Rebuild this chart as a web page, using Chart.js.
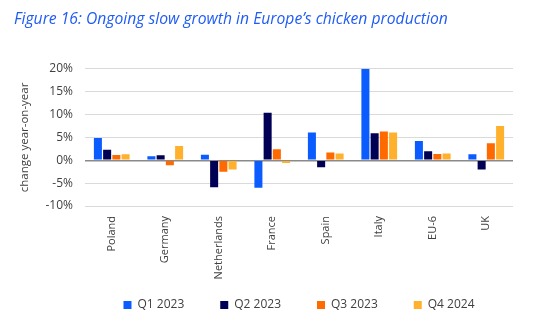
<!DOCTYPE html>
<html>
<head>
<meta charset="utf-8">
<script src="https://cdn.jsdelivr.net/npm/chart.js@4/dist/chart.umd.min.js"></script>
<style>
  html, body { margin: 0; padding: 0; background: #fff; }
  #wrap { position: relative; width: 553px; height: 323px; }
</style>
</head>
<body>
<div id="wrap"><canvas id="chart"></canvas></div>
<script>
// Year-on-year change in chicken production, % per quarter
const countries = ["Poland", "Germany", "Netherlands", "France", "Spain", "Italy", "EU-6", "UK"];
const q1_2023 = [4.9, 0.9, 1.2, -6.0, 6.1, 20.0, 4.2, 1.3];
const q2_2023 = [2.3, 1.1, -5.9, 10.4, -1.5, 5.9, 2.0, -2.0];
const q3_2023 = [1.15, -1.1, -2.5, 2.4, 1.7, 6.3, 1.4, 3.7];
const q4_2024 = [1.3, 3.1, -2.0, -0.6, 1.5, 6.1, 1.5, 7.5];
const seriesLabels = ["Q1 2023", "Q2 2023", "Q3 2023", "Q4 2024"];
const seriesColors = ["#0a5cff", "#000055", "#ff6a00", "#ffb12e"];

const FONT = "'Open Sans', 'Noto Sans', sans-serif";
const TEXT = "#404040";

const seriesData = [q1_2023, q2_2023, q3_2023, q4_2024];

// Legend spacing: labels.padding sets the gap between items, but Chart.js also
// uses it above/below the row, so the box is capped with maxHeight and moved
// back into place here before it is painted.
const LEGEND_GAP = 36;
const LEGEND_ROW_Y = 305;
const placeLegend = {
  id: "placeLegend",
  beforeDraw(chart) {
    const lg = chart.legend;
    if (!lg) return;
    lg.left = chart.chartArea.left;
    lg.right = chart.chartArea.right;
    lg.width = lg.right - lg.left;
    lg.top = LEGEND_ROW_Y - 6 - LEGEND_GAP;
    lg.bottom = chart.height;
    lg.height = lg.bottom - lg.top;
  },
};

new Chart(document.getElementById("chart").getContext("2d"), {
  type: "bar",
  data: {
    labels: countries,
    datasets: seriesData.map((values, i) => ({
      label: seriesLabels[i],
      data: values,
      backgroundColor: seriesColors[i],
      borderWidth: 0,
      categoryPercentage: 0.69,
      barPercentage: 0.87,
    })),
  },
  plugins: [placeLegend],
  options: {
    responsive: true,
    maintainAspectRatio: false,
    animation: false,
    layout: { padding: { left: 14, right: 40, top: 6, bottom: 0 } },
    scales: {
      x: {
        grid: { display: false },
        border: { display: false },
        afterFit: (scale) => { scale.height = 87; },
        ticks: {
          color: TEXT,
          font: { family: FONT, size: 11 },
          minRotation: 90,
          maxRotation: 90,
          padding: 2,
        },
      },
      y: {
        min: -10,
        max: 20,
        border: { display: false },
        afterFit: (scale) => { scale.width = 71; },
        grid: {
          drawTicks: false,
          color: (ctx) => (ctx.tick && ctx.tick.value === 0 ? "#8a8a8a" : "#dadada"),
          lineWidth: (ctx) => (ctx.tick && ctx.tick.value === 0 ? 1.5 : 1),
        },
        ticks: {
          stepSize: 5,
          autoSkip: false,
          padding: 12,
          color: TEXT,
          font: { family: FONT, size: 12 },
          callback: (v) => v + "%",
        },
        title: {
          display: true,
          text: "change year-on-year",
          color: TEXT,
          font: { family: FONT, size: 11.5 },
          padding: { top: 4, bottom: 6 },
        },
      },
    },
    plugins: {
      title: {
        display: true,
        text: "Figure 16: Ongoing slow growth in Europe\u2019s chicken production",
        align: "start",
        color: "#1f5bf5",
        font: { family: FONT, size: 15.7, style: "italic", weight: "normal" },
        padding: { top: 4, bottom: 40 },
      },
      legend: {
        position: "bottom",
        maxHeight: 30,
        labels: {
          color: TEXT,
          font: { family: FONT, size: 12 },
          boxWidth: 8,
          boxHeight: 8,
          padding: LEGEND_GAP,
        },
      },
      tooltip: { enabled: false },
    },
  },
});
</script>
</body>
</html>
